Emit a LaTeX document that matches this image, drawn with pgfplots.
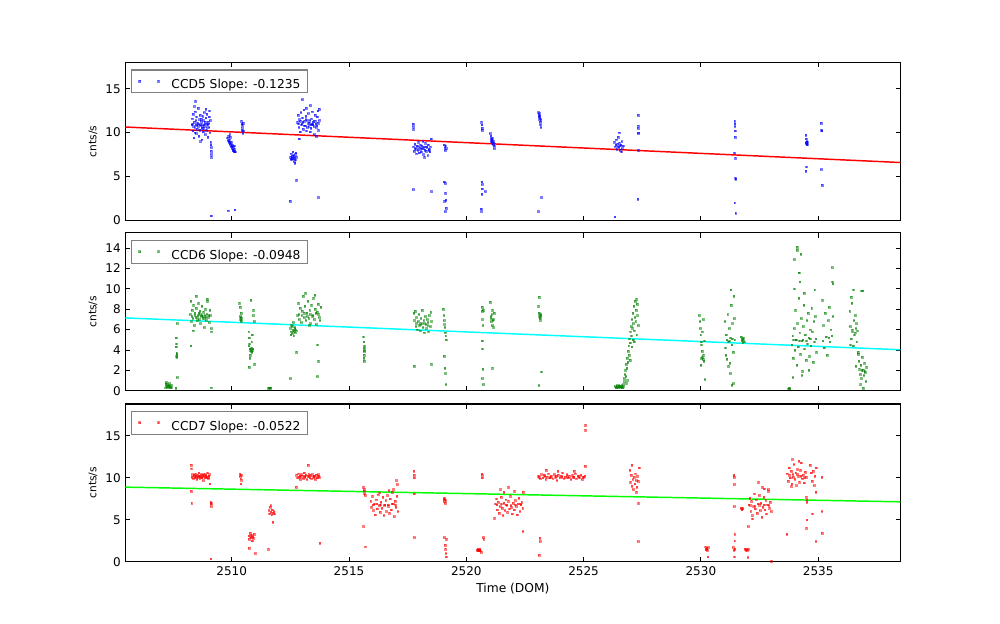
\documentclass[border=0pt]{standalone}
\usepackage{fontspec}
\setmainfont{DejaVu Sans}
\usepackage{pgfplots}
\pgfplotsset{compat=1.18}
\definecolor{mpblue}{rgb}{0,0,1}
\definecolor{mpgreen}{rgb}{0,0.5,0}
\definecolor{mpred}{rgb}{1,0,0}
\definecolor{mpcyan}{rgb}{0,1,1}
\definecolor{mplime}{rgb}{0,1,0}
\pgfplotsset{
  myax/.style={
    width=581.1pt, height=118.3pt, scale only axis,
    xmin=2505.47, xmax=2538.5,
    xtick={2510,2515,2520,2525,2530,2535},
    tick align=inside, xtick pos=both, ytick pos=both,
    major tick length=3.5pt,
    axis line style={line width=0.8pt},
    tick style={line width=0.6pt, black},
    ticklabel style={font=\fontsize{9}{11}\selectfont},
    /pgf/number format/assume math mode=true,
    /pgf/number format/1000 sep={},
    ylabel={cnts/s},
    every axis y label/.style={at={(axis description cs:0,0.5)}, rotate=90, anchor=center, yshift=24.4pt, font=\fontsize{8}{10}\selectfont},
    every axis x label/.style={at={(axis description cs:0.5,0)}, anchor=center, yshift=-20.5pt, font=\fontsize{9.2}{11}\selectfont},
    legend style={at={(axis description cs:0,1)}, anchor=north west, xshift=4.1pt, yshift=-5.2pt,
      draw=black!50, line width=0.8pt, font=\fontsize{9.2}{11}\selectfont, inner sep=0pt,
      nodes={inner sep=0pt},
      /tikz/every even column/.append style={column sep=0pt}},
    legend cell align=left,
    legend image code/.code={\path[draw=none, fill=none] (0pt,-5.75pt) rectangle (30pt,11.25pt);
      \draw[#1, only marks] plot coordinates {(6.2pt,2.75pt) (20.4pt,2.75pt)};},
  },
  pts/.style={only marks, mark=square*, mark size=0.62pt, color=#1,
    mark options={draw=none, fill=#1, opacity=0.5}},
}
\begin{document}
\begin{tikzpicture}
\path[use as bounding box, fill=white] (0,0) rectangle (750pt,468pt);
% ---------------- CCD5
\begin{axis}[myax, at={(94.1pt,302.8pt)}, anchor=south west,
  ymin=0, ymax=18, ytick={0,5,10,15}, xticklabels={}]
\addplot[pts=mpblue] table {
x y
2508.30 10.9
2508.32 11.6
2508.34 10.2
2508.36 12.1
2508.38 9.4
2508.40 11.2
2508.42 10.6
2508.44 12.4
2508.46 10.9
2508.48 9.9
2508.50 11.8
2508.52 10.4
2508.54 11.1
2508.56 12.8
2508.58 10.7
2508.60 9.6
2508.62 11.5
2508.64 10.3
2508.66 12.0
2508.68 10.8
2508.70 11.3
2508.72 9.2
2508.74 10.5
2508.76 11.9
2508.78 10.1
2508.80 11.4
2508.82 12.3
2508.84 10.7
2508.86 9.8
2508.88 11.0
2508.90 11.7
2508.92 10.3
2508.94 12.1
2508.96 10.9
2508.98 9.5
2509.00 11.2
2509.02 10.6
2509.04 11.8
2509.06 10.0
2509.08 11.4
2508.33 11.0
2508.37 10.7
2508.41 13.0
2508.47 11.4
2508.51 10.8
2508.57 11.0
2508.63 10.9
2508.69 11.6
2508.75 10.8
2508.81 10.9
2508.87 11.2
2508.93 10.6
2508.99 11.0
2509.05 12.5
2508.45 13.6
2508.43 10.0
2508.67 9.0
2508.89 12.7
2508.71 11.0
2508.79 10.5
2509.10 8.9
2509.11 8.6
2509.12 7.9
2509.13 7.5
2509.14 7.2
2509.12 8.3
2509.13 0.5
2509.82 9.4
2509.84 9.1
2509.86 9.6
2509.88 8.9
2509.90 9.2
2509.92 8.7
2509.94 9.5
2509.96 8.4
2509.98 8.9
2510.00 8.2
2510.02 8.6
2510.04 8.0
2510.06 8.3
2510.08 7.9
2510.10 8.5
2510.12 8.1
2510.14 7.8
2509.87 9.0
2509.91 9.8
2509.95 8.8
2509.99 8.5
2510.03 8.4
2510.07 8.0
2510.11 7.9
2509.85 1.1
2510.13 1.2
2510.42 11.3
2510.43 11.0
2510.44 10.6
2510.45 10.3
2510.46 10.9
2510.47 9.9
2510.48 11.1
2510.49 10.2
2512.50 7.2
2512.53 7.6
2512.55 6.9
2512.58 7.3
2512.60 7.8
2512.62 7.0
2512.64 7.4
2512.66 6.7
2512.68 7.1
2512.70 7.5
2512.72 6.9
2512.74 7.2
2512.52 7.0
2512.57 7.1
2512.63 7.3
2512.69 6.5
2512.73 7.7
2512.49 2.2
2512.76 4.6
2512.80 11.2
2512.83 12.0
2512.86 10.6
2512.89 11.5
2512.92 10.1
2512.95 12.3
2512.98 11.0
2513.01 11.7
2513.04 10.4
2513.07 12.6
2513.10 11.3
2513.13 10.8
2513.16 11.9
2513.19 10.2
2513.22 11.4
2513.25 12.2
2513.28 10.7
2513.31 11.1
2513.34 13.1
2513.37 10.5
2513.40 11.6
2513.43 12.4
2513.46 10.9
2513.49 11.3
2513.52 9.8
2513.55 12.0
2513.58 11.0
2513.61 10.6
2513.64 11.8
2513.67 12.5
2513.70 10.3
2513.73 11.4
2512.84 11.0
2512.91 11.3
2512.97 10.9
2513.03 11.2
2513.09 10.8
2513.15 11.5
2513.21 10.6
2513.27 11.1
2513.33 11.4
2513.39 10.9
2513.45 11.2
2513.51 10.7
2513.57 11.3
2513.63 10.8
2513.69 11.1
2513.00 13.8
2512.88 9.3
2513.35 10.1
2513.42 11.0
2513.18 12.8
2513.60 9.6
2513.72 12.7
2513.70 2.6
2517.75 8.4
2517.78 7.9
2517.81 8.7
2517.84 8.1
2517.87 7.6
2517.90 8.5
2517.93 8.0
2517.96 8.9
2517.99 7.7
2518.02 8.3
2518.05 8.6
2518.08 7.8
2518.11 8.2
2518.14 9.0
2518.17 7.5
2518.20 8.4
2518.23 8.0
2518.26 8.8
2518.29 7.9
2518.32 8.3
2518.35 7.4
2518.38 8.6
2518.41 8.1
2518.44 7.8
2518.47 8.4
2518.50 9.3
2517.80 8.2
2517.92 8.3
2518.04 8.1
2518.16 8.2
2518.28 8.4
2518.40 8.0
2518.10 8.5
2518.22 7.2
2517.73 10.7
2517.74 11.0
2517.75 10.4
2517.74 3.5
2518.52 3.3
2519.05 8.6
2519.08 8.3
2519.10 8.0
2519.12 8.5
2519.15 8.2
2519.06 4.4
2519.09 4.2
2519.11 3.1
2519.13 2.3
2519.07 2.2
2519.14 1.4
2519.10 1.0
2520.65 11.2
2520.66 10.9
2520.67 10.5
2520.68 10.3
2520.66 4.4
2520.67 4.1
2520.68 3.6
2520.66 3.0
2520.64 1.3
2520.65 1.0
2520.80 3.3
2521.02 9.9
2521.04 9.6
2521.06 9.3
2521.08 9.1
2521.10 8.9
2521.12 9.4
2521.14 8.7
2521.16 9.0
2521.18 8.5
2521.05 9.0
2521.11 9.2
2521.15 8.8
2521.19 8.2
2523.08 12.3
2523.09 12.0
2523.10 11.8
2523.11 12.2
2523.12 11.5
2523.13 11.9
2523.14 11.2
2523.15 11.6
2523.16 10.9
2523.17 11.4
2523.18 10.6
2523.20 2.6
2523.08 1.0
2526.32 8.9
2526.35 8.4
2526.38 9.2
2526.41 8.1
2526.44 8.7
2526.47 9.5
2526.50 8.3
2526.53 8.8
2526.56 8.0
2526.59 8.6
2526.62 9.0
2526.65 8.2
2526.68 8.5
2526.37 8.6
2526.46 8.4
2526.55 8.5
2526.61 7.8
2526.52 10.0
2526.33 0.4
2527.32 12.0
2527.33 10.8
2527.33 10.5
2527.34 10.0
2527.33 9.9
2527.34 8.0
2527.31 2.4
2531.44 11.3
2531.45 11.0
2531.45 10.7
2531.46 10.2
2531.46 9.5
2531.43 7.7
2531.47 7.1
2531.48 4.7
2531.47 4.8
2531.44 2.0
2531.48 0.8
2534.47 9.7
2534.48 9.3
2534.50 8.9
2534.51 8.7
2534.52 9.0
2534.49 8.8
2534.53 8.6
2534.54 8.9
2534.50 6.1
2534.47 5.6
2535.12 11.1
2535.14 10.3
2535.16 10.2
2535.13 5.8
2535.17 4.0
};
\addlegendentry{CCD5 Slope: -0.1235\rule{5.5pt}{0pt}}
\addplot[mpred, line width=1.1pt, forget plot] coordinates {(2505.47,10.64) (2538.5,6.59)};
\end{axis}
% ---------------- CCD6
\begin{axis}[myax, at={(94.1pt,175.0pt)}, anchor=south west,
  ymin=0, ymax=15.5, ytick={0,2,4,6,8,10,12,14}, xticklabels={}]
\addplot[pts=mpgreen] table {
x y
2507.17 0.3
2507.20 0.5
2507.23 0.3
2507.26 0.6
2507.29 0.4
2507.32 0.3
2507.35 0.7
2507.38 0.4
2507.41 0.3
2507.19 0.7
2507.25 0.4
2507.31 0.5
2507.37 0.3
2507.43 0.5
2507.22 0.8
2507.34 0.4
2507.63 5.2
2507.64 4.6
2507.63 4.3
2507.65 3.7
2507.64 3.4
2507.66 3.3
2507.65 3.6
2507.67 6.6
2507.68 1.3
2507.62 0.25
2508.22 7.5
2508.25 8.8
2508.28 6.8
2508.31 7.9
2508.34 7.1
2508.37 8.4
2508.40 6.4
2508.43 7.6
2508.46 7.2
2508.49 8.1
2508.52 6.9
2508.55 7.4
2508.58 8.6
2508.61 7.0
2508.64 7.8
2508.67 6.6
2508.70 7.3
2508.73 8.3
2508.76 7.1
2508.79 7.7
2508.82 6.2
2508.85 7.4
2508.88 8.0
2508.91 6.9
2508.94 7.5
2508.97 8.8
2509.00 7.2
2509.03 6.7
2509.06 7.9
2509.09 7.4
2509.12 6.1
2508.30 7.3
2508.42 7.4
2508.54 7.2
2508.66 7.5
2508.78 7.3
2508.90 7.2
2509.02 7.4
2508.60 7.6
2508.72 7.4
2508.84 7.1
2508.48 9.3
2508.95 9.0
2508.36 5.9
2509.14 5.8
2508.26 4.4
2509.13 0.3
2510.33 8.6
2510.35 8.2
2510.36 7.3
2510.37 7.0
2510.38 6.9
2510.39 7.2
2510.40 7.6
2510.41 6.8
2510.42 7.1
2510.72 5.8
2510.74 5.2
2510.76 4.6
2510.78 4.1
2510.80 4.0
2510.82 3.9
2510.84 4.2
2510.86 3.8
2510.88 4.0
2510.90 4.1
2510.79 3.5
2510.85 4.8
2510.91 7.4
2510.93 7.9
2510.95 6.8
2510.73 4.4
2510.77 3.2
2510.87 5.5
2510.81 8.9
2510.75 2.3
2510.97 2.6
2511.57 0.26
2511.60 0.28
2511.63 0.25
2511.66 0.27
2512.50 6.1
2512.53 5.8
2512.55 6.4
2512.58 5.6
2512.60 6.0
2512.62 6.7
2512.64 5.4
2512.66 5.9
2512.68 6.2
2512.70 5.7
2512.72 6.0
2512.52 5.5
2512.57 6.3
2512.63 5.8
2512.69 6.1
2512.74 5.9
2512.49 1.2
2512.76 3.8
2512.80 7.4
2512.84 8.6
2512.88 7.0
2512.92 8.1
2512.96 6.7
2513.00 7.8
2513.04 9.3
2513.08 7.2
2513.12 8.3
2513.16 6.9
2513.20 7.6
2513.24 8.8
2513.28 7.1
2513.32 7.9
2513.36 6.6
2513.40 8.4
2513.44 7.3
2513.48 9.1
2513.52 7.0
2513.56 8.0
2513.60 6.5
2513.64 7.7
2513.68 8.5
2513.72 7.2
2513.76 6.9
2513.80 8.2
2512.86 7.5
2512.98 7.4
2513.10 7.6
2513.22 7.3
2513.34 7.5
2513.46 7.4
2513.58 7.6
2513.70 7.5
2513.14 9.6
2513.54 9.4
2513.30 6.4
2513.66 4.5
2513.70 2.9
2513.64 1.4
2515.62 5.3
2515.63 4.8
2515.64 4.2
2515.65 3.9
2515.66 4.0
2515.64 3.5
2515.63 3.2
2515.65 2.9
2515.66 4.4
2517.76 7.6
2517.79 6.9
2517.82 7.8
2517.85 6.3
2517.88 7.2
2517.91 6.0
2517.94 6.8
2517.97 7.5
2518.00 6.4
2518.03 5.9
2518.06 7.1
2518.09 6.6
2518.12 7.9
2518.15 6.2
2518.18 6.9
2518.21 5.7
2518.24 7.3
2518.27 6.5
2518.30 6.1
2518.33 7.0
2518.36 6.7
2518.39 5.8
2518.42 7.4
2518.45 6.3
2518.48 7.7
2518.51 6.8
2517.87 6.6
2518.05 6.5
2518.20 6.6
2518.35 6.4
2517.77 2.4
2518.52 2.6
2519.02 8.0
2519.04 7.4
2519.06 6.9
2519.08 6.2
2519.10 5.7
2519.12 5.4
2519.14 5.0
2519.05 3.4
2519.08 2.2
2519.11 1.7
2519.13 0.6
2519.07 6.5
2520.67 8.2
2520.68 7.8
2520.69 7.0
2520.70 6.4
2520.68 4.9
2520.69 4.1
2520.70 2.1
2520.71 0.6
2520.67 1.2
2520.72 7.9
2521.02 8.7
2521.04 7.3
2521.06 6.8
2521.08 7.5
2521.10 6.4
2521.12 7.9
2521.14 7.0
2521.16 6.2
2521.18 7.6
2521.05 7.1
2521.13 6.9
2521.11 2.2
2523.08 8.3
2523.10 7.6
2523.12 7.3
2523.13 7.1
2523.14 7.5
2523.16 6.9
2523.18 7.4
2523.15 7.2
2523.11 9.2
2523.20 1.85
2523.09 0.5
2526.35 0.4
2526.38 0.3
2526.41 0.5
2526.44 0.4
2526.47 0.3
2526.50 0.5
2526.53 0.4
2526.56 0.3
2526.59 0.4
2526.62 0.5
2526.65 0.3
2526.68 0.4
2526.40 0.35
2526.52 0.45
2526.64 0.35
2526.70 0.6
2526.72 1.2
2526.74 0.9
2526.76 1.6
2526.78 2.0
2526.80 1.4
2526.82 2.6
2526.84 2.2
2526.86 3.2
2526.88 2.8
2526.90 3.9
2526.92 4.4
2526.94 3.5
2526.96 5.1
2526.98 4.7
2527.00 5.8
2527.02 6.3
2527.04 5.4
2527.06 7.0
2527.08 6.1
2527.10 7.6
2527.12 6.6
2527.14 8.3
2527.16 5.9
2527.18 7.2
2527.20 8.8
2527.22 6.8
2527.24 7.9
2527.26 5.5
2527.28 8.5
2527.30 7.4
2527.32 6.4
2527.05 4.3
2526.99 3.0
2527.15 4.8
2526.87 1.0
2526.83 0.7
2527.25 9.0
2527.11 5.0
2529.93 7.4
2529.95 6.8
2529.97 6.1
2529.99 5.5
2530.01 4.8
2530.03 4.5
2530.05 3.9
2530.07 3.3
2530.09 3.1
2530.11 3.5
2530.13 2.9
2530.15 4.9
2530.02 3.2
2530.06 5.8
2530.10 7.0
2530.17 1.1
2530.00 2.5
2531.02 6.8
2531.05 4.2
2531.08 5.5
2531.11 3.1
2531.14 7.5
2531.17 4.8
2531.20 6.1
2531.23 2.7
2531.26 5.2
2531.29 8.4
2531.32 4.5
2531.35 6.6
2531.38 3.8
2531.41 7.1
2531.44 5.0
2531.10 5.0
2531.22 4.9
2531.34 5.1
2531.28 9.9
2531.40 9.3
2531.06 3.5
2531.18 2.4
2531.25 1.7
2531.32 0.56
2531.37 0.7
2531.72 5.3
2531.74 4.9
2531.76 5.1
2531.78 4.7
2531.80 5.0
2531.82 5.2
2531.84 4.8
2533.73 0.2
2533.76 0.25
2533.79 0.2
2533.88 4.5
2533.91 5.4
2533.94 3.2
2533.97 6.1
2534.00 4.0
2534.03 7.9
2534.06 5.0
2534.09 2.5
2534.12 6.6
2534.15 4.3
2534.18 9.1
2534.21 5.7
2534.24 3.6
2534.27 7.1
2534.30 4.9
2534.33 1.9
2534.36 6.3
2534.39 8.4
2534.42 4.1
2534.45 5.5
2534.48 3.0
2534.51 6.9
2534.54 4.6
2534.57 7.6
2534.60 5.2
2534.63 3.4
2534.66 6.0
2534.69 4.4
2534.72 8.1
2534.75 5.8
2534.78 2.8
2534.81 6.8
2534.84 4.8
2534.87 7.3
2534.90 5.1
2534.93 3.8
2533.95 5.0
2534.05 5.0
2534.20 4.9
2534.35 5.0
2534.50 4.9
2534.65 5.1
2534.10 14.1
2534.11 13.8
2533.97 12.9
2534.26 13.4
2534.17 11.6
2534.20 11.6
2534.22 10.7
2533.99 10.0
2534.40 9.6
2533.92 1.3
2534.30 1.5
2534.60 2.0
2534.85 9.9
2535.18 8.9
2535.22 6.4
2535.26 4.2
2535.30 7.6
2535.34 5.3
2535.38 3.5
2535.42 6.9
2535.46 8.2
2535.50 4.8
2535.54 6.0
2535.58 5.4
2535.62 7.3
2535.60 12.1
2535.61 10.7
2535.62 10.5
2535.20 4.9
2535.45 5.2
2536.34 7.8
2536.37 6.3
2536.40 5.1
2536.43 8.6
2536.46 5.8
2536.49 4.4
2536.52 6.9
2536.55 5.5
2536.58 7.4
2536.61 6.1
2536.64 4.8
2536.67 5.9
2536.70 3.6
2536.45 6.0
2536.57 5.7
2536.40 9.2
2536.50 9.9
2536.60 2.4
2536.38 4.5
2536.63 6.6
2536.70 3.8
2536.73 2.9
2536.76 2.1
2536.79 1.6
2536.82 2.5
2536.85 1.2
2536.88 3.3
2536.91 2.0
2536.94 1.5
2536.97 2.7
2537.00 1.8
2537.03 0.9
2537.06 2.3
2536.80 0.6
2536.92 0.24
2536.86 2.0
2536.98 1.9
2536.84 9.8
2536.90 9.8
};
\addlegendentry{CCD6 Slope: -0.0948\rule{5.5pt}{0pt}}
\addplot[mpcyan, line width=1.1pt, forget plot] coordinates {(2505.47,7.15) (2538.5,4.02)};
\end{axis}
% ---------------- CCD7
\begin{axis}[myax, at={(94.1pt,46.7pt)}, anchor=south west,
  ymin=0, ymax=18.8, ytick={0,5,10,15}, xlabel={Time (DOM)}]
\addplot[pts=mpred] table {
x y
2508.30 10.1
2508.33 10.4
2508.36 9.9
2508.39 10.3
2508.42 10.0
2508.45 10.5
2508.48 10.2
2508.51 9.8
2508.54 10.3
2508.57 10.1
2508.60 10.6
2508.63 9.9
2508.66 10.2
2508.69 10.4
2508.72 10.0
2508.75 10.3
2508.78 9.7
2508.81 10.2
2508.84 10.5
2508.87 10.0
2508.90 10.3
2508.93 10.1
2508.96 10.6
2508.99 9.9
2509.02 10.2
2509.05 10.4
2508.40 10.2
2508.50 10.1
2508.60 10.2
2508.70 10.1
2508.80 10.3
2508.90 10.2
2509.00 10.1
2508.27 11.5
2508.28 11.1
2508.27 8.4
2508.29 7.0
2509.06 9.3
2509.10 7.1
2509.11 6.9
2509.12 7.0
2509.13 6.6
2509.11 0.35
2510.34 10.5
2510.36 10.2
2510.38 9.9
2510.40 10.3
2510.42 9.7
2510.39 9.3
2510.72 3.1
2510.75 2.7
2510.78 3.4
2510.81 2.9
2510.84 3.2
2510.87 2.5
2510.90 3.0
2510.93 2.8
2510.96 3.3
2510.80 3.0
2510.88 2.9
2510.74 1.6
2511.00 1.0
2511.58 6.1
2511.61 5.7
2511.64 6.5
2511.67 5.9
2511.70 5.6
2511.73 6.2
2511.76 5.8
2511.79 6.0
2511.82 5.7
2511.66 6.7
2511.57 1.5
2511.75 4.7
2512.76 10.3
2512.80 10.0
2512.84 10.5
2512.88 10.1
2512.92 9.8
2512.96 10.4
2513.00 10.2
2513.04 9.9
2513.08 10.6
2513.12 10.1
2513.16 10.3
2513.20 9.8
2513.24 10.2
2513.28 10.5
2513.32 10.0
2513.36 10.3
2513.40 9.9
2513.44 10.4
2513.48 10.1
2513.52 10.2
2513.56 9.8
2513.60 10.3
2513.64 10.0
2513.68 10.4
2513.72 10.1
2512.90 10.2
2513.10 10.2
2513.30 10.2
2513.50 10.2
2513.70 10.2
2513.25 11.5
2512.75 8.9
2513.75 2.2
2515.62 8.9
2515.64 8.4
2515.66 8.1
2515.68 7.9
2515.65 8.6
2515.61 4.2
2515.70 1.8
2515.92 7.2
2515.96 6.5
2516.00 7.8
2516.04 6.1
2516.08 6.9
2516.12 5.6
2516.16 7.4
2516.20 6.3
2516.24 8.0
2516.28 6.7
2516.32 5.9
2516.36 7.1
2516.40 6.4
2516.44 7.7
2516.48 5.5
2516.52 6.8
2516.56 7.3
2516.60 6.0
2516.64 7.9
2516.68 6.6
2516.72 5.8
2516.76 7.5
2516.80 6.2
2516.84 8.3
2516.88 6.9
2516.92 5.4
2516.96 7.2
2517.00 6.5
2517.04 7.8
2517.08 6.0
2516.02 6.8
2516.18 6.9
2516.34 6.8
2516.50 6.7
2516.66 6.8
2516.82 6.9
2516.98 6.8
2516.90 8.6
2517.05 9.2
2517.02 9.7
2516.70 8.5
2516.30 8.2
2517.76 10.8
2517.77 10.3
2517.78 10.0
2517.77 8.1
2517.78 2.9
2519.04 7.5
2519.06 7.2
2519.08 7.4
2519.10 7.0
2519.12 7.3
2519.07 7.6
2519.05 2.9
2519.09 2.0
2519.11 1.5
2519.13 1.0
2519.15 2.7
2519.14 0.6
2520.46 1.4
2520.49 1.5
2520.52 1.3
2520.55 1.4
2520.58 1.5
2520.61 1.3
2520.50 1.4
2520.57 1.4
2520.64 1.1
2520.67 10.3
2520.68 10.0
2520.66 10.5
2520.72 2.9
2520.74 2.7
2521.24 6.9
2521.28 7.5
2521.32 6.2
2521.36 7.1
2521.40 5.8
2521.44 6.6
2521.48 7.7
2521.52 6.4
2521.56 5.5
2521.60 7.0
2521.64 6.1
2521.68 7.4
2521.72 6.7
2521.76 5.9
2521.80 7.2
2521.84 6.3
2521.88 7.8
2521.92 6.5
2521.96 5.7
2522.00 7.0
2522.04 6.2
2522.08 7.3
2522.12 6.6
2522.16 5.6
2522.20 6.9
2522.24 7.6
2522.28 6.0
2522.32 6.8
2522.36 7.1
2522.40 6.4
2521.30 6.8
2521.50 6.9
2521.70 6.8
2521.90 6.7
2522.10 6.8
2522.30 6.9
2521.46 8.6
2521.80 8.9
2522.05 8.4
2522.42 8.3
2521.20 5.2
2522.41 3.6
2521.60 8.3
2523.08 10.2
2523.14 9.9
2523.20 10.4
2523.26 10.0
2523.32 10.3
2523.38 9.8
2523.44 10.1
2523.50 10.5
2523.56 10.0
2523.62 10.2
2523.68 9.9
2523.74 10.4
2523.80 10.1
2523.86 9.7
2523.92 10.3
2523.98 10.0
2524.04 10.2
2524.10 10.6
2524.16 9.9
2524.22 10.1
2524.28 10.4
2524.34 10.0
2524.40 10.2
2524.46 9.8
2524.52 10.3
2524.58 10.1
2524.64 10.5
2524.70 9.9
2524.76 10.2
2524.82 10.0
2524.88 10.3
2524.94 9.8
2525.00 10.1
2525.05 10.2
2523.11 10.1
2523.35 10.2
2523.59 10.1
2523.83 10.2
2524.07 10.1
2524.31 10.2
2524.55 10.1
2524.79 10.2
2524.97 10.1
2523.40 10.9
2523.90 10.8
2524.60 10.8
2523.10 0.8
2523.13 2.8
2523.14 2.4
2525.08 16.3
2525.08 15.7
2525.07 11.4
2526.97 10.9
2527.00 9.5
2527.03 10.3
2527.06 9.0
2527.09 9.8
2527.12 8.6
2527.15 10.1
2527.18 9.3
2527.21 10.5
2527.24 9.7
2527.27 8.9
2527.30 10.2
2527.33 9.6
2527.36 11.2
2527.05 11.5
2527.25 8.3
2527.34 7.0
2527.32 2.4
2530.19 1.8
2530.22 1.5
2530.25 1.6
2530.28 1.4
2530.31 1.7
2530.24 1.5
2530.30 0.6
2531.40 10.3
2531.41 10.1
2531.42 9.2
2531.41 6.6
2531.44 3.3
2531.44 2.5
2531.38 1.7
2531.40 1.4
2531.45 1.5
2531.43 0.6
2531.72 6.4
2531.74 6.2
2531.76 6.3
2531.78 6.4
2531.87 1.5
2531.91 1.4
2531.95 1.5
2531.99 1.4
2532.03 1.5
2532.00 0.5
2532.04 6.8
2532.08 7.6
2532.12 6.0
2532.16 7.2
2532.20 5.5
2532.24 6.6
2532.28 8.1
2532.32 6.3
2532.36 7.4
2532.40 5.8
2532.44 6.9
2532.48 7.9
2532.52 6.1
2532.56 7.0
2532.60 5.3
2532.64 6.5
2532.68 7.7
2532.72 6.2
2532.76 7.3
2532.80 5.7
2532.84 6.8
2532.88 8.4
2532.92 6.4
2532.96 7.1
2533.00 6.0
2532.10 6.7
2532.30 6.6
2532.50 6.7
2532.70 6.8
2532.90 6.7
2532.46 9.5
2532.62 8.9
2532.70 8.7
2532.86 8.6
2532.02 4.2
2532.20 5.1
2533.01 0.05
2533.68 10.5
2533.72 9.6
2533.76 11.2
2533.80 10.0
2533.84 10.8
2533.88 9.3
2533.92 10.4
2533.96 11.6
2534.00 9.8
2534.04 10.6
2534.08 9.1
2534.12 11.0
2534.16 10.2
2534.20 9.5
2534.24 10.9
2534.28 11.8
2534.32 9.9
2534.36 10.3
2534.40 9.4
2534.44 10.7
2534.48 10.1
2533.78 10.3
2533.94 10.1
2534.10 10.4
2534.26 10.2
2534.42 10.0
2533.90 12.2
2534.18 12.0
2533.86 9.0
2533.66 3.3
2534.50 7.7
2534.51 7.4
2534.52 7.1
2534.52 5.0
2534.50 4.0
2534.66 11.5
2534.70 10.6
2534.74 9.6
2534.78 10.8
2534.82 9.1
2534.86 10.2
2534.90 8.3
2534.92 11.2
2534.76 5.7
2534.90 2.4
2535.15 10.1
2535.16 6.0
2535.17 3.4
};
\addlegendentry{CCD7 Slope: -0.0522\rule{5.5pt}{0pt}}
\addplot[mplime, line width=1.1pt, forget plot] coordinates {(2505.47,8.89) (2538.5,7.14)};
\end{axis}
\end{tikzpicture}
\end{document}
